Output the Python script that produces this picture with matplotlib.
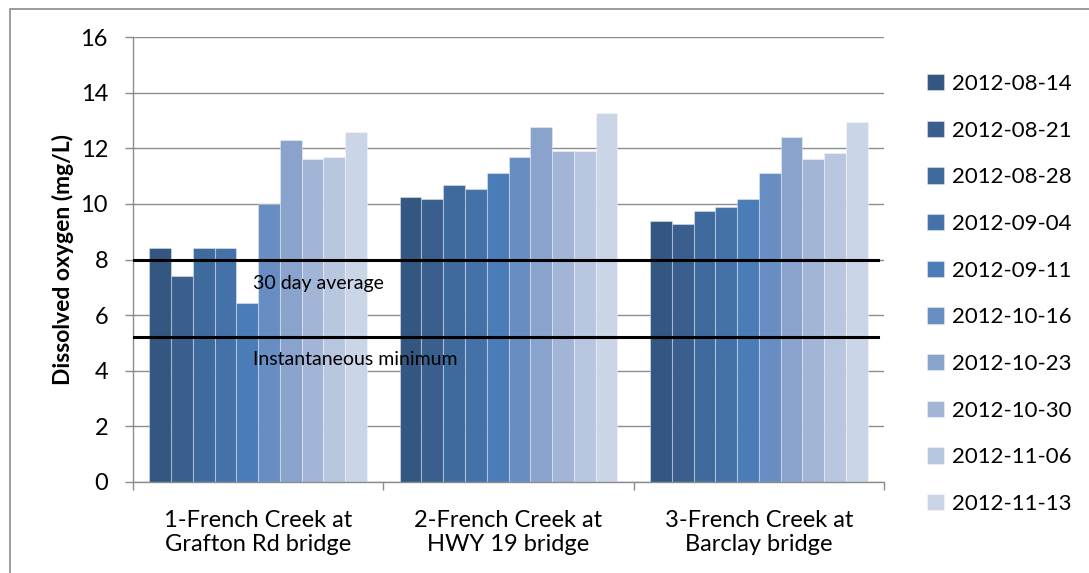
import matplotlib
matplotlib.use("Agg")
import matplotlib.pyplot as plt
import numpy as np
from matplotlib.patches import Rectangle

plt.rcParams['font.family'] = ['Lato', 'DejaVu Sans']

sites = ["1-French Creek at\nGrafton Rd bridge",
         "2-French Creek at\nHWY 19 bridge",
         "3-French Creek at\nBarclay bridge"]
dates = ["2012-08-14", "2012-08-21", "2012-08-28", "2012-09-04", "2012-09-11",
         "2012-10-16", "2012-10-23", "2012-10-30", "2012-11-06", "2012-11-13"]
site1 = [8.4, 7.4, 8.4, 8.4, 6.45, 10.0, 12.3, 11.6, 11.68, 12.6]
site2 = [10.25, 10.18, 10.67, 10.54, 11.1, 11.68, 12.76, 11.9, 11.9, 13.26]
site3 = [9.4, 9.26, 9.75, 9.9, 10.18, 11.1, 12.4, 11.61, 11.82, 12.96]
thirty_day_avg = 8.0
inst_min = 5.2
colors = ["#335780", "#3a5f8e", "#3f6a9d", "#4472a8", "#4a7cb7",
          "#678dc2", "#89a3cc", "#a2b5d6", "#b9c6e0", "#cbd5e8"]

values = np.array([site1, site2, site3])  # sites x dates

fig = plt.figure(figsize=(10.89, 5.73), dpi=100)
ax = fig.add_axes([133/1089, 1-482/573, (884-133)/1089, (482-37)/573])

n = len(dates)
group_w = 1/1.15
bw = group_w / n
x = np.arange(len(sites))
for i in range(n):
    ax.bar(x - group_w/2 + bw*(i+0.5), values[:, i], width=bw, color=colors[i],
           edgecolor=(1, 1, 1, 0.35), linewidth=0.8, label=dates[i], zorder=2)

ax.set_xlim(-0.5, len(sites)-0.5)
ax.set_ylim(0, 16)
ax.set_yticks(np.arange(0, 17, 2))
ax.yaxis.grid(True, color='#8c8c8c', linewidth=1.0, zorder=0)
ax.set_axisbelow(True)

ax.axhline(thirty_day_avg, xmin=0, xmax=0.992, color='black', linewidth=2.2, zorder=3)
ax.axhline(inst_min, xmin=0, xmax=0.992, color='black', linewidth=2.2, zorder=3)
ax.text(-0.02, 7.12, "30 day average", fontsize=14, va='center', ha='left', zorder=4)
ax.text(-0.02, 4.39, "Instantaneous minimum", fontsize=14, va='center', ha='left', zorder=4)

ax.set_xticks(x)
ax.set_xticklabels(sites, fontsize=17, linespacing=1.2)
ax.tick_params(axis='x', length=0, pad=20)
ax.set_xticks(np.arange(-0.5, len(sites), 1), minor=True)
ax.tick_params(axis='x', which='minor', length=6, color='#8c8c8c', width=1)
ax.tick_params(axis='y', length=6, color='#8c8c8c', width=1, labelsize=17, pad=12)

for s in ['top', 'right']:
    ax.spines[s].set_visible(False)
for s in ['left', 'bottom']:
    ax.spines[s].set_color('#8c8c8c')
    ax.spines[s].set_linewidth(1.0)

ax.set_ylabel("Dissolved oxygen (mg/L)", fontsize=16.5, fontweight='bold', labelpad=5)

leg = ax.legend(loc='upper left', bbox_to_anchor=(918/1089, 1-65/573),
                bbox_transform=fig.transFigure, frameon=False, fontsize=16,
                handlelength=0.75, handleheight=0.75, handletextpad=0.4,
                labelspacing=1.2, borderaxespad=0)

border = Rectangle((10/1089, -0.1), 1.2, 1-9/573+0.1, transform=fig.transFigure,
                   fill=False, edgecolor='#8c8c8c', linewidth=1.2)
fig.patches.append(border)

fig.savefig("out.png", dpi=100)
